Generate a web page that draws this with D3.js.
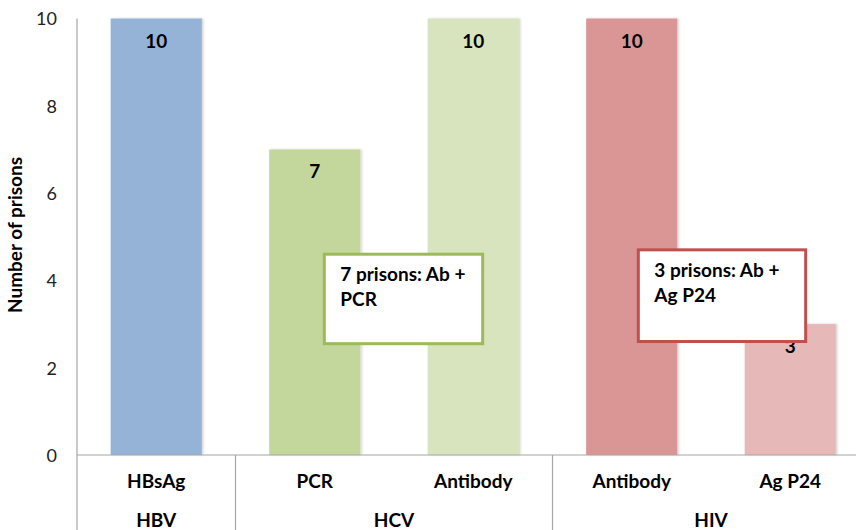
<!DOCTYPE html>
<html><head><meta charset="utf-8">
<script src="https://cdn.jsdelivr.net/npm/d3@7/dist/d3.min.js"></script>
<style>
body{margin:0;background:#fff;}
text{font-family:Lato,"Open Sans",sans-serif;}
</style></head>
<body><svg id="c" width="856" height="530"></svg>
<script>
const categories = ["HBsAg","PCR","Antibody","Antibody","Ag P24"];
const groups = ["HBV","HCV","HCV","HIV","HIV"];
const groupNames = ["HBV","HCV","HIV"];
const values = [10,7,10,10,3];
const colors = ["#95b3d7","#c3d69b","#d7e4bd","#d99694","#e6b9b8"];
const yTicks = [0,2,4,6,8,10];
const notes = [
  {lines:["7 prisons: Ab +","PCR"], color:"#9bbb59", x0:1, x1:2, y0:4.6, y1:2.55},
  {lines:["3 prisons: Ab +","Ag P24"], color:"#c0504d", x0:3, x1:4, y0:4.7, y1:2.6}
];

(function(){
const svg = d3.select("#c");
const mLeft = 77, mTop = 18.5, mBottom = 455, bandW = 158.5;
const FS = 19;
const x = d3.scaleBand().domain(d3.range(categories.length)).range([mLeft, mLeft + bandW*categories.length]).paddingInner(0.425).paddingOuter(0.2125);
const y = d3.scaleLinear().domain([0,10]).range([mBottom, mTop]);

const defs = svg.append("defs");
const f = defs.append("filter").attr("id","sh").attr("x","-10%").attr("y","-10%").attr("width","130%").attr("height","130%");
f.append("feDropShadow").attr("dx",1.5).attr("dy",0).attr("stdDeviation",1.2).attr("flood-color","#000").attr("flood-opacity",0.18);

svg.selectAll("rect.bar").data(values).join("rect").attr("class","bar")
  .attr("x",(d,i)=>x(i)).attr("width",x.bandwidth())
  .attr("y",d=>y(d)).attr("height",d=>y(0)-y(d))
  .attr("fill",(d,i)=>colors[i]).attr("filter","url(#sh)");

svg.selectAll("text.val").data(values).join("text").attr("class","val")
  .attr("x",(d,i)=>x(i)+x.bandwidth()/2).attr("y",d=>y(d)+29)
  .attr("text-anchor","middle").attr("font-weight","bold").attr("font-size",FS).attr("fill","#000")
  .text(d=>d);

const yAxis = d3.axisLeft(y).tickValues(yTicks).tickSize(0).tickPadding(0);
const ga = svg.append("g").attr("transform",`translate(${mLeft},0)`).call(yAxis);
ga.select(".domain").remove();
ga.selectAll("text").attr("x",-20).attr("dy","0.35em").attr("font-size",18).attr("fill","#222").attr("font-family","Lato,'Open Sans',sans-serif");
svg.append("line").attr("x1",mLeft).attr("x2",mLeft).attr("y1",mTop).attr("y2",530).attr("stroke","#a6a6a6").attr("stroke-width",1.2);
svg.append("line").attr("x1",mLeft).attr("x2",856).attr("y1",mBottom).attr("y2",mBottom).attr("stroke","#a6a6a6").attr("stroke-width",1.2);

const seps = [];
groups.forEach((g,i)=>{ if(i>0 && groups[i-1]!==g) seps.push(i); });
svg.selectAll("line.sep").data(seps).join("line").attr("class","sep")
  .attr("x1",i=>mLeft+bandW*i).attr("x2",i=>mLeft+bandW*i).attr("y1",mBottom).attr("y2",530)
  .attr("stroke","#a6a6a6").attr("stroke-width",1.2);

svg.selectAll("text.cat").data(categories).join("text").attr("class","cat")
  .attr("x",(d,i)=>x(i)+x.bandwidth()/2).attr("y",488)
  .attr("text-anchor","middle").attr("font-weight","bold").attr("font-size",FS).attr("fill","#000").text(d=>d);

groupNames.forEach(g=>{
  const idx = groups.map((v,i)=>v===g?i:-1).filter(i=>i>=0);
  const cx = d3.mean(idx,i=>x(i)+x.bandwidth()/2);
  svg.append("text").attr("x",cx).attr("y",527).attr("text-anchor","middle")
    .attr("font-weight","bold").attr("font-size",FS).attr("fill","#000").text(g);
});

svg.append("text").attr("transform","translate(22,235) rotate(-90)").attr("text-anchor","middle")
  .attr("font-weight","bold").attr("font-size",FS).attr("fill","#000").text("Number of prisons");

notes.forEach(n=>{
  const bx0 = x(n.x0)+x.bandwidth()+ (n.x0===1?-36:-39);
  const bx1 = x(n.x1)+ (n.x0===1?55:61);
  const g = svg.append("g");
  g.append("rect").attr("x",bx0).attr("y",y(n.y0)).attr("width",bx1-bx0).attr("height",y(n.y1)-y(n.y0))
    .attr("fill","#fff").attr("stroke",n.color).attr("stroke-width",3);
  n.lines.forEach((l,k)=>{
    g.append("text").attr("x",bx0+16).attr("y",y(n.y0)+27+k*25).attr("font-weight","bold")
      .attr("font-size",FS).attr("fill","#000").text(l);
  });
});
})();
</script></body></html>
